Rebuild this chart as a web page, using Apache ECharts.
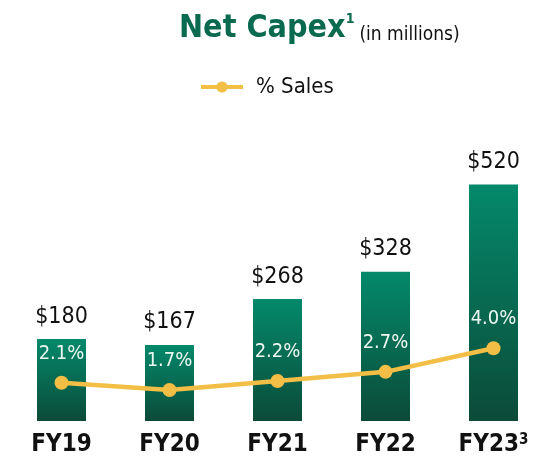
<!DOCTYPE html>
<html>
<head>
<meta charset="utf-8">
<script src="https://cdn.jsdelivr.net/npm/echarts@6/dist/echarts.min.js"></script>
<style>
  html, body { margin: 0; padding: 0; background: #fff; }
  #chart { width: 536px; height: 461px; }
</style>
</head>
<body>
<div id="chart"></div>
<script>
var years = ['FY19', 'FY20', 'FY21', 'FY22', 'FY23'];
var capex = [180, 167, 268, 328, 520];
var pctSales = [2.1, 1.7, 2.2, 2.7, 4.0];

var narrow = '"Liberation Sans Narrow", "DejaVu Sans Condensed", sans-serif';

var chart = echarts.init(document.getElementById('chart'));
chart.setOption({
  animation: false,
  title: {
    text: '{main|Net Capex}{sup|1} {sub|(in millions)}',
    left: 174,
    top: 7,
    textStyle: {
      rich: {
        main: { fontFamily: narrow, fontSize: 32, fontWeight: 'bold', color: '#0a6a4f' },
        sup: { fontFamily: narrow, fontSize: 14, fontWeight: 'bold', color: '#0a6a4f', verticalAlign: 'top', padding: [0, 0, 15, 0] },
        sub: { fontFamily: narrow, fontSize: 19, fontWeight: 'normal', color: '#111', padding: [14, 0, 0, 0] }
      }
    }
  },
  legend: {
    left: 194,
    top: 71,
    itemWidth: 42,
    itemHeight: 14,
    data: ['% Sales'],
    lineStyle: { width: 4 },
    textStyle: { fontFamily: narrow, fontSize: 22, color: '#111', padding: [0, 0, 0, 8] }
  },
  grid: { left: 61.5, right: 42.5, top: 148, bottom: 40 },
  xAxis: {
    type: 'category',
    boundaryGap: false,
    data: years,
    axisLine: { show: false },
    axisTick: { show: false },
    axisLabel: {
      margin: 12,
      formatter: function (v) {
        return v === 'FY23' ? '{b|FY23}{s|3}' : '{b|' + v + '}';
      },
      rich: {
        b: { fontFamily: narrow, fontSize: 24, fontWeight: 'bold', color: '#111' },
        s: { fontFamily: narrow, fontSize: 15, fontWeight: 'bold', color: '#111', verticalAlign: 'top', padding: [0, 0, 9, 0] }
      }
    }
  },
  yAxis: [
    { type: 'value', min: 0, max: 600, show: false },
    { type: 'value', min: 0, max: 15, show: false }
  ],
  series: [
    {
      name: 'Net Capex',
      type: 'bar',
      barWidth: 49,
      clip: false,
      data: capex,
      itemStyle: {
        color: new echarts.graphic.LinearGradient(0, 0, 0, 1, [
          { offset: 0, color: '#04896b' },
          { offset: 1, color: '#0b4b38' }
        ])
      },
      label: {
        show: true,
        position: 'top',
        distance: 11,
        fontFamily: narrow,
        fontSize: 23,
        color: '#111',
        formatter: function (p) { return '$' + p.value; }
      }
    },
    {
      name: '% Sales',
      type: 'line',
      yAxisIndex: 1,
      data: pctSales,
      symbol: 'circle',
      symbolSize: 14,
      lineStyle: { color: '#f3be45', width: 4.5 },
      itemStyle: { color: '#f3be45' },
      label: {
        show: true,
        position: 'top',
        distance: 12,
        fontFamily: narrow,
        fontSize: 20,
        color: '#eef8f3',
        formatter: function (p) { return p.value.toFixed(1) + '%'; }
      }
    }
  ]
});
</script>
</body>
</html>
